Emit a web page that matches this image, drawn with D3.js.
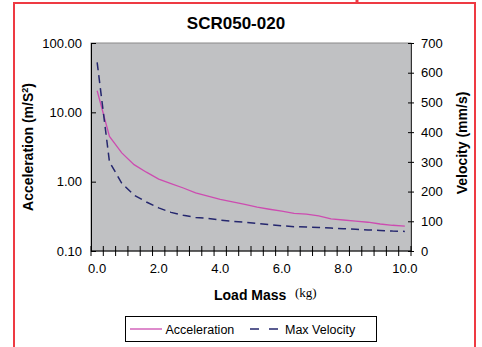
<!DOCTYPE html>
<html>
<head>
<meta charset="utf-8">
<script src="https://cdn.jsdelivr.net/npm/d3@7"></script>
<style>
  body { margin: 0; background: #fff; }
  svg { display: block; font-family: "Liberation Sans", Arial, sans-serif; }
</style>
</head>
<body>
<div id="chart"></div>
<script>
// load mass categories (kg)
var loadMass = [0.0, 0.4, 0.8, 1.2, 1.6, 2.0, 2.4, 2.8, 3.2, 3.6, 4.0, 4.4, 4.8,
                5.2, 5.6, 6.0, 6.4, 6.8, 7.2, 7.6, 8.0, 8.4, 8.8, 9.2, 9.6, 10.0];
// acceleration m/s^2 (left, log)
var accel = [20.5, 4.5, 2.6, 1.76, 1.37, 1.09, 0.94, 0.81, 0.69, 0.62, 0.556, 0.51, 0.47,
             0.43, 0.40, 0.375, 0.35, 0.34, 0.32, 0.29, 0.28, 0.27, 0.26, 0.245, 0.235, 0.228];
// max velocity mm/s (right, linear)
var velocity = [635, 300, 228, 188, 165, 145, 130, 120, 113, 110, 104, 100, 97,
                93, 89, 85, 82, 81, 79, 77, 75, 73, 71, 69, 67, 66];
var leftTicks = [0.1, 1, 10, 100];
var rightTicks = [0, 100, 200, 300, 400, 500, 600, 700];
var xLabelEvery = 5;

var W = 482, H = 347;
var plot = {left: 91, right: 411, top: 43, bottom: 251};

var svg = d3.select("#chart").append("svg")
  .attr("width", W).attr("height", H);

// outer red frame
svg.append("rect")
  .attr("x", 14).attr("y", 3)
  .attr("width", 461).attr("height", 350)
  .attr("fill", "white")
  .attr("stroke", "#ee3a43")
  .attr("stroke-width", 2);
svg.append("line")
  .attr("x1", 357).attr("x2", 357).attr("y1", 0).attr("y2", 4)
  .attr("stroke", "#ee3a43").attr("stroke-width", 3);

// title
svg.append("text")
  .attr("x", 236).attr("y", 29)
  .attr("text-anchor", "middle")
  .style("font-weight", "bold")
  .style("font-size", "17px")
  .text("SCR050-020");

var x = d3.scaleBand()
  .domain(d3.range(loadMass.length))
  .range([plot.left, plot.right]);
var yL = d3.scaleLog().domain([0.1, 100]).range([plot.bottom, plot.top]);
var yR = d3.scaleLinear().domain([0, 700]).range([plot.bottom, plot.top]);

// plot area
svg.append("rect")
  .attr("x", plot.left).attr("y", plot.top)
  .attr("width", plot.right - plot.left)
  .attr("height", plot.bottom - plot.top)
  .attr("fill", "#c0c1c3")
  .attr("stroke", "#8a8a8a")
  .attr("stroke-width", 1);

// left axis
var gL = svg.append("g")
  .attr("transform", "translate(" + plot.left + ",0)")
  .call(d3.axisLeft(yL).tickValues(leftTicks).tickFormat(d3.format(".2f"))
        .tickSizeInner(5).tickSizeOuter(0));
gL.selectAll(".tick line").attr("x2", 5);
gL.selectAll(".tick text").attr("x", -9);

// right axis
var gR = svg.append("g")
  .attr("transform", "translate(" + plot.right + ",0)")
  .call(d3.axisRight(yR).tickValues(rightTicks).tickSizeInner(3).tickSizeOuter(0));
gR.selectAll(".tick line").attr("x1", -3);
gR.selectAll(".tick text").attr("x", 10);
gR.select(".domain").attr("stroke", "#333");

// bottom axis: ticks at category edges, labels every 5th
var gB = svg.append("g")
  .attr("transform", "translate(0," + plot.bottom + ")");
gB.append("line")
  .attr("x1", plot.left).attr("x2", plot.right)
  .attr("stroke", "#000");
var edges = d3.range(loadMass.length + 1).map(function(i){
  return i < loadMass.length ? x(i) : x(i - 1) + x.bandwidth();
});
gB.selectAll("line.tk").data(edges).enter().append("line")
  .attr("class", "tk")
  .attr("x1", function(d){ return d; }).attr("x2", function(d){ return d; })
  .attr("y1", -5).attr("y2", 5)
  .attr("stroke", "#000");
gB.selectAll("text").data(loadMass.filter(function(d, i){ return i % xLabelEvery == 0; }))
  .enter().append("text")
  .attr("x", function(d){ return x(loadMass.indexOf(d)) + x.bandwidth() / 2; })
  .attr("y", 22)
  .attr("text-anchor", "middle")
  .style("font-size", "13px")
  .text(function(d){ return d.toFixed(1); });

svg.selectAll(".tick text").style("font-size", "13px").attr("fill", "#000")
  .style("font-family", "Liberation Sans, Arial, sans-serif");

// series
var cx = function(d, i){ return x(i) + x.bandwidth() / 2; };
svg.append("path")
  .datum(accel)
  .attr("fill", "none")
  .attr("stroke", "#cc4cb0")
  .attr("stroke-width", 1.3)
  .attr("d", d3.line().x(cx).y(function(d){ return yL(d); }));
svg.append("path")
  .datum(velocity)
  .attr("fill", "none")
  .attr("stroke", "#25276e")
  .attr("stroke-width", 1.5)
  .attr("stroke-dasharray", "8,5")
  .attr("d", d3.line().x(cx).y(function(d){ return yR(d); }));

// axis titles
var accTitle = svg.append("text")
  .attr("transform", "translate(33,147) rotate(-90)")
  .attr("text-anchor", "middle")
  .style("font-weight", "bold")
  .style("font-size", "14px");
accTitle.append("tspan").text("Acceleration (m/S");
accTitle.append("tspan").attr("dy", -5).style("font-size", "9px").text("2");
accTitle.append("tspan").attr("dy", 5).text(")");

svg.append("text")
  .attr("transform", "translate(467,143) rotate(-90)")
  .attr("text-anchor", "middle")
  .style("font-weight", "bold")
  .style("font-size", "14px")
  .text("Velocity (mm/s)");

svg.append("text")
  .attr("x", 214).attr("y", 300)
  .style("font-weight", "bold")
  .style("font-size", "14px")
  .text("Load Mass");
svg.append("text")
  .attr("x", 295).attr("y", 297)
  .style("font-family", "Liberation Serif, Times New Roman, serif")
  .style("font-size", "13px")
  .text("(kg)");

// legend
var lg = svg.append("g");
lg.append("rect")
  .attr("x", 125.5).attr("y", 316.5)
  .attr("width", 251).attr("height", 25)
  .attr("fill", "white").attr("stroke", "#000");
lg.append("line")
  .attr("x1", 130).attr("x2", 162).attr("y1", 329).attr("y2", 329)
  .attr("stroke", "#cc4cb0").attr("stroke-width", 1.3);
lg.append("text")
  .attr("x", 165.5).attr("y", 334)
  .style("font-size", "12.5px")
  .text("Acceleration");
lg.append("line")
  .attr("x1", 250).attr("x2", 279).attr("y1", 329).attr("y2", 329)
  .attr("stroke", "#25276e").attr("stroke-width", 1.5)
  .attr("stroke-dasharray", "9,10");
lg.append("text")
  .attr("x", 285).attr("y", 334)
  .style("font-size", "12.5px")
  .text("Max Velocity");
</script>
</body>
</html>
